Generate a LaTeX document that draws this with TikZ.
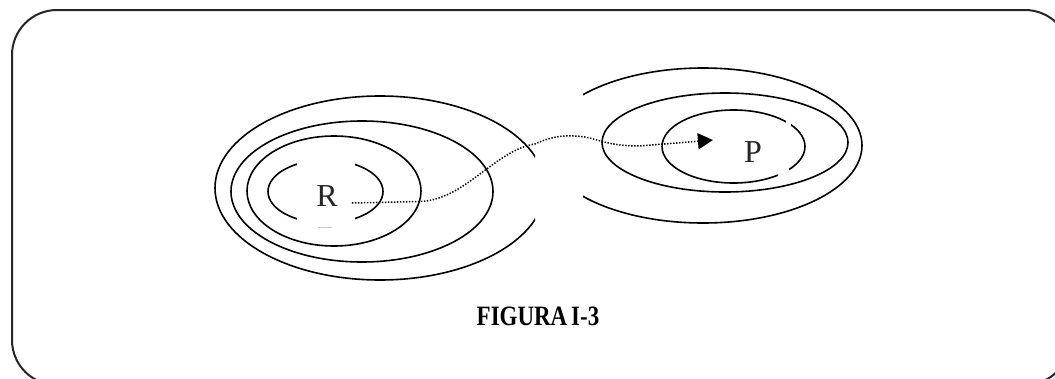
\documentclass[tikz,border=0pt]{standalone}
\usepackage{fontspec}
\setmainfont{Liberation Serif}
\usetikzlibrary{arrows.meta}
\begin{document}
\begin{tikzpicture}[x=1pt,y=-1pt,
  ring/.style={line width=1.6pt},
  frame/.style={line width=2pt, draw=black!85, rounded corners=45pt},
  lbl/.style={font=\fontsize{32}{36}\selectfont, inner sep=0pt, text=black!85},
  conn/.style={line width=1.5pt, dash pattern=on 1.4pt off 1.6pt, -{Triangle[length=15pt,width=16pt]}},
  gap/.style={fill=white, draw=none},
  caption/.style={font=\fontsize{28}{32}\selectfont\bfseries, xscale=0.82, inner sep=0pt, text=black}]
\useasboundingbox (0,0) rectangle (1055,378);
\clip (0,0) rectangle (1055,378);
\draw[frame] (12,10) rectangle (1070,385);
% left group
\begin{scope}
  \clip (0,0) rectangle (535,378);
  \draw[ring] (380,188) ellipse [x radius=165pt, y radius=92pt];
\end{scope}
\draw[ring] (362,191.5) ellipse [x radius=131pt, y radius=70.5pt];
\draw[ring] (334,191) ellipse [x radius=87pt, y radius=55pt];
\draw[ring] (325.5,191.5) ellipse [x radius=57.5pt, y radius=31.5pt];
\fill[gap] (297,154) rectangle (355,167);
\fill[gap] (297,216) rectangle (355,230);
\draw[gray!40, line width=1pt] (318,227) -- (332,227);
% right group
\begin{scope}
  \clip (583,0) rectangle (1055,378);
  \draw[ring] (703,145.5) ellipse [x radius=159pt, y radius=77.5pt];
\end{scope}
\draw[ring] (725,142.5) ellipse [x radius=123pt, y radius=49.5pt];
\draw[ring] (733.5,146.5) ellipse [x radius=71.5pt, y radius=36.5pt];
\fill[gap] (786,116) rectangle (791,127);
\fill[gap] (778,165) rectangle (789,180);
% labels
\node[lbl] (R) at (327,196) {R};
\node[lbl] (P) at (753,152) {P};
\draw[conn] ([shift={(14,7)}]R.east) -- (420,201.5)
  .. controls (465,200) and (495,150) .. (535,144)
  .. controls (550,137) and (565,134) .. (585,137)
  .. controls (600,140) and (610,146) .. (640,146)
  -- ([shift={(-31,-12)}]P.west);
\node[caption] (cap) at (538,316) {FIGURA\hspace{0.17em}I-3};
\end{tikzpicture}
\end{document}
